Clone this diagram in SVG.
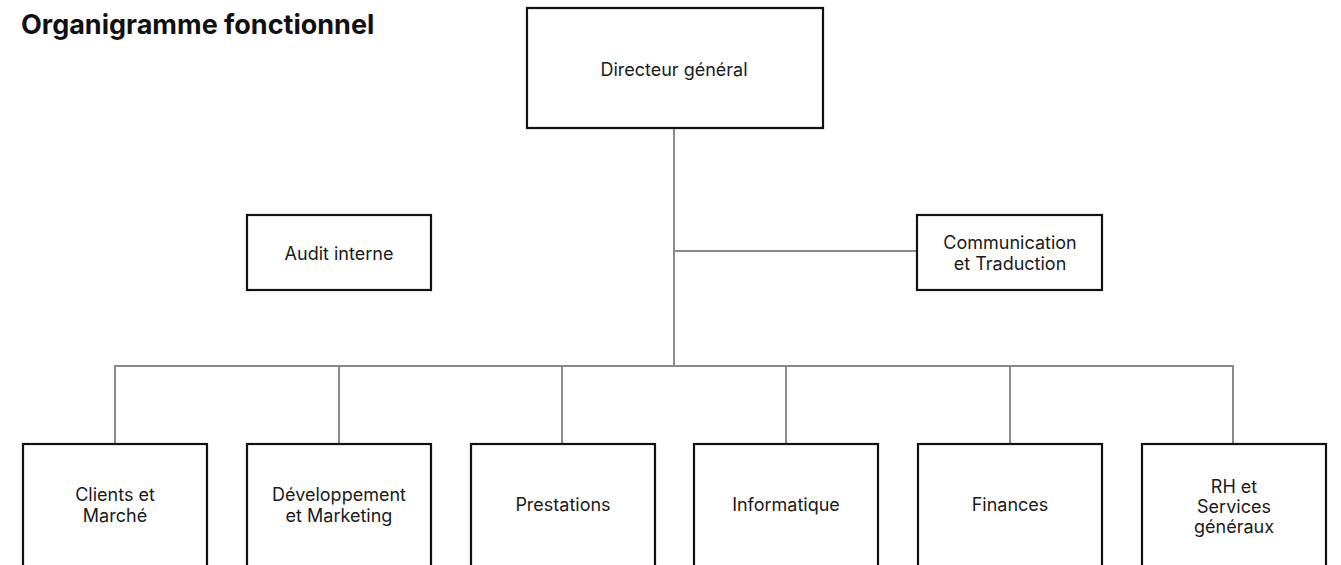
<svg xmlns="http://www.w3.org/2000/svg" width="1341" height="565" viewBox="0 0 1341 565">
<style>
.box{fill:#fff;stroke:#111;stroke-width:2.2}
.lbl{font-family:Inter,"Liberation Sans",sans-serif;font-size:18px;fill:#1a1a1a;text-anchor:middle}
.title{font-family:Inter,"Liberation Sans",sans-serif;font-size:27px;font-weight:700;fill:#111}
.con{fill:none;stroke:#8a8a8a;stroke-width:2}
</style>
<rect width="1341" height="565" fill="#fff"/>
<text class="title" x="21" y="34">Organigramme fonctionnel</text>
<g id="connectors">
<path class="con" d="M674 128 V366"/>
<path class="con" d="M674 251 H917"/>
<path class="con" d="M115 444 V366 H1233 V444"/>
<path class="con" d="M339 366 V444 M562 366 V444 M786 366 V444 M1010 366 V444"/>
</g>
<g id="n-dg"><rect class="box" x="527" y="8" width="296" height="120"/><text class="lbl" x="674" y="76">Directeur général</text></g>
<g id="n-audit"><rect class="box" x="247" y="215" width="184" height="75"/><text class="lbl" x="339" y="260">Audit interne</text></g>
<g id="n-comm"><rect class="box" x="917" y="215" width="185" height="75"/><text class="lbl" x="1010" y="249">Communication</text><text class="lbl" x="1010" y="270">et Traduction</text></g>
<g id="n-clients"><rect class="box" x="23" y="444" width="184" height="124"/><text class="lbl" x="115" y="501">Clients et</text><text class="lbl" x="115" y="522">Marché</text></g>
<g id="n-dev"><rect class="box" x="247" y="444" width="184" height="124"/><text class="lbl" x="339" y="501">Développement</text><text class="lbl" x="339" y="522">et Marketing</text></g>
<g id="n-prest"><rect class="box" x="471" y="444" width="184" height="124"/><text class="lbl" x="563" y="511">Prestations</text></g>
<g id="n-info"><rect class="box" x="694" y="444" width="184" height="124"/><text class="lbl" x="786" y="511">Informatique</text></g>
<g id="n-fin"><rect class="box" x="918" y="444" width="184" height="124"/><text class="lbl" x="1010" y="511">Finances</text></g>
<g id="n-rh"><rect class="box" x="1142" y="444" width="184" height="124"/><text class="lbl" x="1234" y="493">RH et</text><text class="lbl" x="1234" y="513">Services</text><text class="lbl" x="1234" y="533">généraux</text></g>
</svg>
